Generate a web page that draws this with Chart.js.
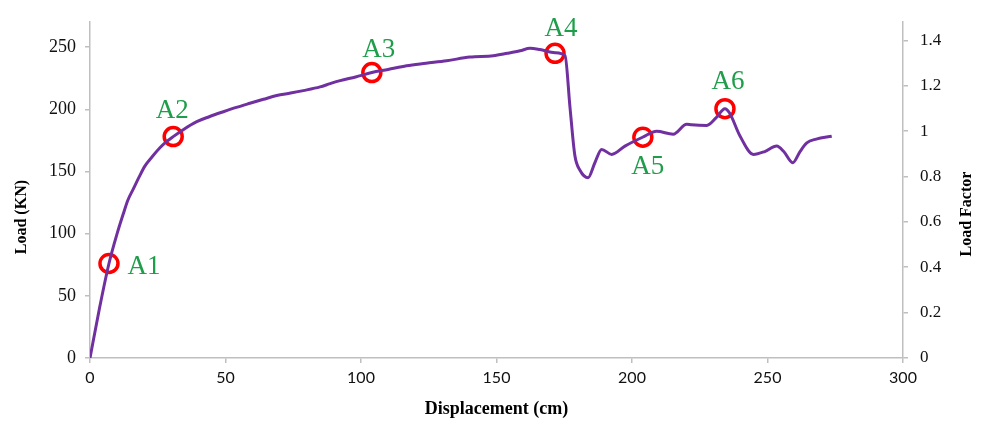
<!DOCTYPE html>
<html>
<head>
<meta charset="utf-8">
<script src="https://cdn.jsdelivr.net/npm/chart.js@4/dist/chart.umd.min.js"></script>
<style>
  body { margin: 0; background: #fff; }
  #wrap { width: 983px; height: 421px; }
</style>
</head>
<body>
<div id="wrap"><canvas id="loadChart"></canvas></div>
<script>
// ---- data ----
const displacement = [0, 3.5, 7, 10, 12.3, 14, 16, 18, 20.3, 23, 25.8, 28, 30.7, 34, 39.4, 44, 49.2, 54,
  59, 64, 68.9, 74, 78.7, 84.9, 88.6, 92.3, 98, 104, 110, 116.8, 124, 131.6, 140.2, 148.8, 154, 158.7, 162.4, 166,
  171.6, 175.3, 177.1, 178.9, 180.8, 183.8, 186.3, 188.8, 192.5, 197.4, 203.9, 209.1, 215.2, 220.2, 222, 227.6, 231,
  234.3, 236, 239.9, 244.8, 249, 253.4, 256, 259.3, 262, 264.5, 268, 273.7];
const load = [0, 40, 76, 100, 116, 127, 136, 145, 154.5, 162, 169, 173.5, 178, 183, 190, 194, 198, 201.5,
  204.8, 208, 211, 213, 215, 218, 220.6, 223, 226, 229.5, 232, 235, 237, 239, 242, 243, 245, 247, 249, 248,
  245.5, 243, 202, 163, 151, 145, 157, 167.7, 163.7, 170.4, 177.5, 182.3, 180, 188, 187.5, 187, 193,
  200.5, 197, 178.3, 163.7, 166, 170.4, 166, 157, 166, 173, 176, 178.3];

const markerNames = ['A1', 'A2', 'A3', 'A4', 'A5', 'A6'];
const markerDisp = [7, 30.7, 104, 171.6, 204, 234.3];
const markerLoad = [76, 178, 229.5, 245, 177.5, 200.5];

const dispTicks = [0, 50, 100, 150, 200, 250, 300];
const loadTicks = [0, 50, 100, 150, 200, 250];
const factorTicks = [0, 0.2, 0.4, 0.6, 0.8, 1, 1.2, 1.4];

// label placement relative to each marker (dx, baseline dy)
const labelOffsets = [[35, 11], [-1, -19], [7, -16], [6, -17], [5, 37], [3, -20]];

const axisGrey = '#bfbfbf';
const serif = "'Liberation Serif', 'Times New Roman', serif";

const sideTitles = {
  id: 'sideTitles',
  afterDraw(chart) {
    const c = chart.ctx, a = chart.chartArea;
    const midY = (a.top + a.bottom) / 2;
    c.save();
    c.fillStyle = '#000';
    c.font = 'bold 16px ' + serif;
    c.textAlign = 'center';
    c.textBaseline = 'middle';
    c.translate(a.left - 68, midY + 27);
    c.rotate(-Math.PI / 2);
    c.fillText('Load (KN)', 0, 0);
    c.restore();

    c.save();
    c.fillStyle = '#000';
    c.font = 'bold 16px ' + serif;
    c.textAlign = 'center';
    c.textBaseline = 'middle';
    c.translate(a.right + 64, midY + 24);
    c.rotate(-Math.PI / 2);
    c.fillText('Load Factor', 0, 0);
    c.restore();

    // point labels
    const meta = chart.getDatasetMeta(1);
    c.save();
    c.fillStyle = '#1e9e4a';
    c.font = '27px ' + serif;
    c.textAlign = 'center';
    c.textBaseline = 'alphabetic';
    meta.data.forEach((pt, i) => {
      const off = labelOffsets[i];
      c.fillText(markerNames[i], pt.x + off[0], pt.y + off[1]);
    });
    c.restore();
  }
};

const fixedTicks = list => scale => { scale.ticks = list.map(v => ({ value: v })); };

new Chart(document.getElementById('loadChart'), {
  type: 'line',
  data: {
    datasets: [
      {
        data: displacement.map((d, i) => ({ x: d, y: load[i] })),
        borderColor: '#7030a0',
        borderWidth: 3,
        pointRadius: 0,
        cubicInterpolationMode: 'monotone',
        yAxisID: 'y'
      },
      {
        data: markerDisp.map((d, i) => ({ x: d, y: markerLoad[i] })),
        showLine: false,
        pointRadius: 9,
        pointBorderWidth: 3.5,
        pointBorderColor: '#ff0000',
        pointBackgroundColor: 'rgba(0,0,0,0)',
        yAxisID: 'y'
      }
    ]
  },
  options: {
    responsive: true,
    maintainAspectRatio: false,
    animation: false,
    layout: { padding: { top: 17, left: 0, right: 0, bottom: 0 } },
    plugins: { legend: { display: false }, tooltip: { enabled: false } },
    scales: {
      x: {
        type: 'linear',
        min: 0, max: 300,
        afterBuildTicks: fixedTicks(dispTicks),
        afterFit: s => { s.height = 63; },
        grid: { drawOnChartArea: false, color: axisGrey, tickLength: 5, lineWidth: 1.5 },
        border: { color: axisGrey, width: 1.5 },
        ticks: { color: '#111', padding: 5, maxRotation: 0, font: { family: "Lato, 'Open Sans', sans-serif", size: 16 } },
        title: {
          display: true,
          text: 'Displacement (cm)',
          color: '#000',
          padding: { top: 0, bottom: 1 },
          font: { family: serif, size: 18, weight: 'bold' }
        }
      },
      y: {
        type: 'linear',
        position: 'left',
        min: 0, max: 270,
        afterBuildTicks: fixedTicks(loadTicks),
        afterFit: s => { s.width = 90; },
        grid: { drawOnChartArea: false, color: axisGrey, tickLength: 5, lineWidth: 1.5 },
        border: { color: axisGrey, width: 1.5 },
        ticks: { color: '#111', padding: 9, font: { family: serif, size: 18 } }
      },
      y2: {
        type: 'linear',
        position: 'right',
        min: 0, max: 1.48,
        afterBuildTicks: fixedTicks(factorTicks),
        afterFit: s => { s.width = 80; },
        grid: { drawOnChartArea: false, color: axisGrey, tickLength: 5, lineWidth: 1.5 },
        border: { color: axisGrey, width: 1.5 },
        ticks: {
          color: '#111', padding: 12,
          font: { family: serif, size: 17 },
          callback: v => String(Number(v.toFixed(1)))
        }
      }
    }
  },
  plugins: [sideTitles]
});
</script>
</body>
</html>
